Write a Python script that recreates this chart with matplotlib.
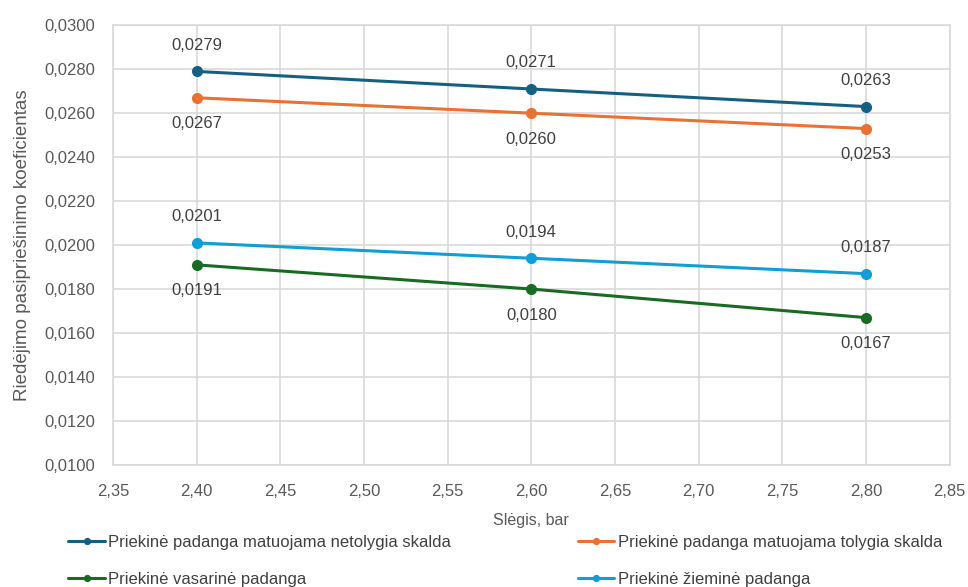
import matplotlib
matplotlib.use("Agg")
import matplotlib.pyplot as plt
from matplotlib.ticker import FuncFormatter, MultipleLocator

plt.rcParams['font.family'] = ['Liberation Sans', 'DejaVu Sans']

pressure = [2.40, 2.60, 2.80]
series_names = [
    "Priekinė padanga matuojama netolygia skalda",
    "Priekinė padanga matuojama tolygia skalda",
    "Priekinė vasarinė padanga",
    "Priekinė žieminė padanga",
]
netolygi = [0.0279, 0.0271, 0.0263]
tolygi = [0.0267, 0.0260, 0.0253]
vasarine = [0.0191, 0.0180, 0.0167]
ziemine = [0.0201, 0.0194, 0.0187]

colors = ["#156082", "#E97132", "#196B24", "#0F9ED5"]
label_side = [1, -1, -1, 1]  # +1 above the point, -1 below
series = [netolygi, tolygi, vasarine, ziemine]

fig = plt.figure(figsize=(9.68, 5.87), dpi=100)
ax = fig.add_axes([0.1167, 0.208, 0.8643, 0.749])

for name, vals, col, side in zip(series_names, series, colors, label_side):
    ax.plot(pressure, vals, color=col, lw=2.2, marker="o", ms=7, label=name,
            solid_capstyle="round", zorder=3)
    for x, y in zip(pressure, vals):
        ax.annotate(f"{y:.4f}".replace(".", ","), (x, y),
                    xytext=(0, 26 * side), textcoords="offset pixels",
                    ha="center", va="center", fontsize=12, color="#404040")

ax.set_xlim(2.35, 2.85)
ax.set_ylim(0.010, 0.030)
ax.xaxis.set_major_locator(MultipleLocator(0.05))
ax.yaxis.set_major_locator(MultipleLocator(0.002))
ax.xaxis.set_major_formatter(FuncFormatter(lambda v, p: f"{v:.2f}".replace(".", ",")))
ax.yaxis.set_major_formatter(FuncFormatter(lambda v, p: f"{v:.4f}".replace(".", ",")))
ax.tick_params(axis="both", length=0, labelsize=12, labelcolor="#595959")
ax.tick_params(axis="x", pad=14)
ax.tick_params(axis="y", pad=13)
ax.grid(True, color="#d9d9d9", lw=1.2)
ax.set_axisbelow(True)
for s in ax.spines.values():
    s.set_color("#d9d9d9")
    s.set_linewidth(1.2)

ax.set_xlabel("Slėgis, bar", fontsize=11.5, color="#595959", labelpad=10)
ax.set_ylabel("Riedėjimo pasipriešinimo koeficientas", fontsize=13.5,
              color="#595959", labelpad=9)

handles, labels = ax.get_legend_handles_labels()
order = [0, 2, 1, 3]
fig.legend([handles[i] for i in order], [labels[i] for i in order],
           loc="lower left", bbox_to_anchor=(0.055, -0.025), ncol=2,
           frameon=False, fontsize=12, labelcolor="#404040", handlelength=2.2,
           handletextpad=0.2, columnspacing=7.6, markerscale=0.6, labelspacing=1.3)

fig.savefig("out.png", dpi=100)
